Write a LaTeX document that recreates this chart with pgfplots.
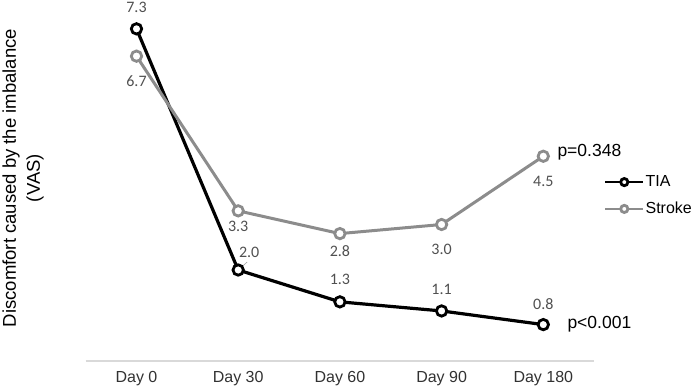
\documentclass[border=0pt]{standalone}
\usepackage{fontspec}
\setmainfont{Liberation Sans}
\newfontfamily\carlito{Carlito}
\usepackage{pgfplots}
\usepackage{pgfplotstable}
\pgfplotsset{compat=1.18}

\definecolor{strokegray}{RGB}{140,140,140}
\definecolor{labelgray}{RGB}{80,80,80}
\definecolor{axisgray}{RGB}{217,217,217}
\definecolor{ticktext}{RGB}{50,50,50}

% VAS score per follow-up visit; tdx/tdy and sdy place the value labels
\pgfplotstableread{
day tia tdx tdy stroke sdy
0 7.3 0 21 6.7 -25
1 2.0 11 18 3.3 -16
2 1.3 0 22 2.8 -17
3 1.1 0 22 3.0 -25
4 0.8 0 21 4.5 -25
}\vasdata

\begin{document}
\begin{tikzpicture}
\useasboundingbox (0,0) rectangle (694pt,-390pt);
\begin{axis}[
  at={(85.65pt,-361pt)}, anchor=south west,
  x=101.7pt, y=45.5pt,
  xmin=-0.5, xmax=4.5, ymin=0, ymax=7.9,
  clip=false,
  axis x line*=bottom,
  axis y line*=left,
  x axis line style={draw=axisgray, line width=1.2pt, -},
  y axis line style={draw=none},
  ytick=\empty,
  xtick={0,1,2,3,4},
  xticklabels={Day 0, Day 30, Day 60, Day 90, Day 180},
  major tick length=0pt,
  xticklabel style={font=\fontsize{16}{19}\selectfont, text=ticktext, anchor=center, yshift=-18pt},
  every axis y label/.style={at={(axis description cs:-0.123,0.509)}, rotate=90, anchor=center, align=center,
    font=\fontsize{18.5}{24}\selectfont},
  ylabel={Discomfort caused by the imbalance\\(VAS)},
  nodes near coords={\pgfmathprintnumber[fixed,fixed zerofill,precision=1,assume math mode=true]{\pgfplotspointmeta}},
  nodes near coords style={font=\carlito\fontsize{16}{18}\selectfont, text=labelgray, anchor=center, inner sep=0pt},
  legend style={draw=none, fill=none, at={(axis description cs:1.019,0.46)}, anchor=west,
    inner sep=0pt, row sep=12pt, nodes={inner sep=1pt, anchor=west},
    font=\fontsize{16}{18}\selectfont},
  legend cell align=left,
  legend image code/.code={
    \draw[mark repeat=2, mark phase=2, #1, mark size=3.6pt, line width=2.6pt]
      plot coordinates {(0pt,0pt) (19pt,0pt) (38pt,0pt)};
  },
]
\addplot[black, line width=3.2pt, mark=*, mark size=5.2pt,
  mark options={fill=white, draw=black, line width=2.8pt, solid},
  point meta=explicit,
  visualization depends on={\thisrow{tdx} \as \dx},
  visualization depends on={\thisrow{tdy} \as \dy},
  every node near coord/.append style={xshift=\dx pt, yshift=\dy pt}]
  table[x=day, y=tia, meta=tia] {\vasdata};
\addlegendentry{TIA}
\addplot[strokegray, line width=3pt, mark=*, mark size=5.2pt,
  mark options={fill=white, draw=strokegray, line width=2.8pt, solid},
  point meta=explicit,
  visualization depends on={\thisrow{sdy} \as \dy},
  every node near coord/.append style={yshift=\dy pt}]
  table[x=day, y=stroke, meta=stroke] {\vasdata};
\addlegendentry{Stroke}

% leader line of the Day 30 TIA label
\draw[gray!70, line width=0.6pt] ([xshift=4.5pt,yshift=4pt]axis cs:1,2.0) -- ([xshift=9pt,yshift=8pt]axis cs:1,2.0);

% significance of the change over follow-up
\node[anchor=west, font=\fontsize{17.5}{20}\selectfont, inner sep=0pt] at ([xshift=14pt,yshift=4pt]axis cs:4,4.5) {p=0.348};
\node[anchor=west, font=\fontsize{17.5}{20}\selectfont, inner sep=0pt] at ([xshift=24pt]axis cs:4,0.8) {p<0.001};
\end{axis}
\end{tikzpicture}
\end{document}
